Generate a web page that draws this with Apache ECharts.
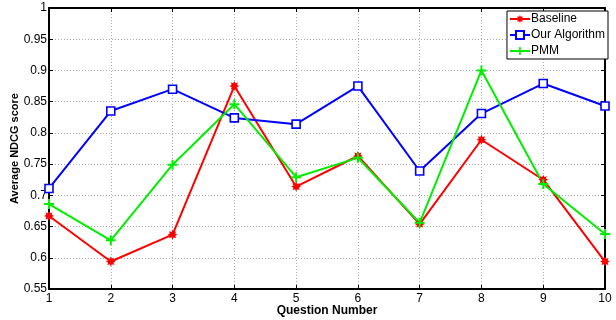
<!DOCTYPE html>
<html>
<head>
<meta charset="utf-8">
<script src="https://cdn.jsdelivr.net/npm/echarts@6/dist/echarts.min.js"></script>
<style>
  html, body { margin: 0; padding: 0; background: #fff; }
  #chart { width: 616px; height: 320px; }
</style>
</head>
<body>
<div id="chart"></div>
<script>
var questions = [1, 2, 3, 4, 5, 6, 7, 8, 9, 10];
var baseline = [0.667, 0.594, 0.637, 0.875, 0.714, 0.763, 0.654, 0.789, 0.725, 0.594];
var ourAlgorithm = [0.711, 0.835, 0.870, 0.824, 0.814, 0.875, 0.739, 0.831, 0.879, 0.843];
var pmm = [0.686, 0.628, 0.749, 0.846, 0.729, 0.760, 0.656, 0.900, 0.718, 0.638];

var font = 'Liberation Sans, Arial, sans-serif';
var starPath = 'path://M5,0L6.1,2.3L8.5,1.5L7.7,3.9L10,5L7.7,6.1L8.5,8.5L6.1,7.7L5,10L3.9,7.7L1.5,8.5L2.3,6.1L0,5L2.3,3.9L1.5,1.5L3.9,2.3Z';
var plusPath = 'path://M4,0H6V4H10V6H6V10H4V6H0V4H4Z';

function pairs(vals) {
  return questions.map(function (q, i) { return [q, vals[i]]; });
}

function makeSeries(name, vals, color, symbol, size, fill) {
  return {
    name: name,
    type: 'line',
    data: pairs(vals),
    symbol: symbol,
    symbolSize: size,
    showAllSymbol: true,
    lineStyle: { color: color, width: 2 },
    itemStyle: { color: fill || color, borderColor: color, borderWidth: fill ? 1.6 : 0 },
    emphasis: { disabled: true }
  };
}

var frame = { show: true, lineStyle: { color: '#000', width: 2 } };
var ticksIn = { show: true, inside: true, length: 4, lineStyle: { color: '#000' } };

var option = {
  animation: false,
  backgroundColor: '#fff',
  grid: { left: 49, right: 11, top: 8, bottom: 31, containLabel: false, outerBoundsMode: 'none' },
  legend: {
    orient: 'vertical',
    right: 8,
    top: 11,
    backgroundColor: '#fff',
    borderColor: '#000',
    borderWidth: 1,
    borderRadius: 0,
    padding: [2, 3, 2, 2],
    itemGap: 4,
    itemWidth: 20,
    itemHeight: 10,
    textStyle: { fontFamily: font, fontSize: 12, color: '#000', padding: [0, 0, 0, -4] },
    data: ['Baseline', 'Our Algorithm', 'PMM']
  },
  xAxis: [{
    type: 'value',
    min: 1,
    max: 10,
    interval: 1,
    name: 'Question Number',
    nameLocation: 'middle',
    nameGap: 16,
    nameMoveOverlap: false,
    nameTextStyle: { fontFamily: font, fontSize: 12, fontWeight: 'bold', color: '#000' },
    axisLine: frame,
    axisTick: ticksIn,
    axisLabel: { fontFamily: font, fontSize: 12, color: '#000', margin: 4 },
    splitLine: { show: true, lineStyle: { color: '#aaa', type: [1, 2], width: 1 } }
  }, {
    type: 'value',
    position: 'top',
    min: 1,
    max: 10,
    interval: 1,
    axisLine: frame,
    axisTick: ticksIn,
    axisLabel: { show: false },
    splitLine: { show: false }
  }],
  yAxis: [{
    type: 'value',
    min: 0.55,
    max: 1,
    interval: 0.05,
    name: 'Average NDCG score',
    nameLocation: 'middle',
    nameGap: 29,
    nameMoveOverlap: false,
    nameTextStyle: { fontFamily: font, fontSize: 11, fontWeight: 'bold', color: '#000' },
    axisLine: frame,
    axisTick: ticksIn,
    axisLabel: {
      fontFamily: font, fontSize: 12, color: '#000', margin: 2,
      formatter: function (v) { return String(parseFloat(v.toFixed(2))); }
    },
    splitLine: { show: true, lineStyle: { color: '#aaa', type: [1, 2], width: 1 } }
  }, {
    type: 'value',
    position: 'right',
    min: 0.55,
    max: 1,
    interval: 0.05,
    axisLine: frame,
    axisTick: ticksIn,
    axisLabel: { show: false },
    splitLine: { show: false }
  }],
  series: [
    makeSeries('Baseline', baseline, '#ff0000', starPath, 10),
    makeSeries('Our Algorithm', ourAlgorithm, '#0000ff', 'rect', 8, '#fff'),
    makeSeries('PMM', pmm, '#00ee00', plusPath, 10)
  ]
};

var myChart = echarts.init(document.getElementById('chart'));
myChart.setOption(option);
</script>
</body>
</html>
